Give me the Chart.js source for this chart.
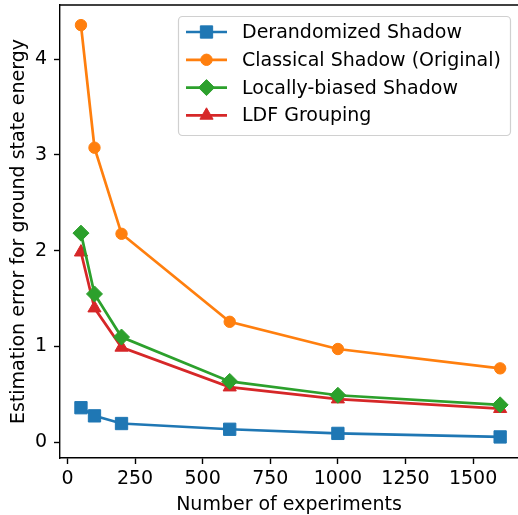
<!DOCTYPE html>
<html>
<head>
<meta charset="utf-8">
<script src="https://cdn.jsdelivr.net/npm/chart.js@4.4.1/dist/chart.umd.min.js"></script>
<style>
  html, body { margin: 0; padding: 0; background: #fff; overflow: hidden; }
  canvas { display: block; }
</style>
</head>
<body>
<canvas id="myChart" width="518" height="515"></canvas>
<script>
var experiments = [50, 100, 200, 600, 1000, 1600];
var derandomized = [0.36, 0.275, 0.195, 0.135, 0.092, 0.055];
var classical = [4.355, 3.075, 2.176, 1.257, 0.973, 0.771];
var locallyBiased = [2.183, 1.548, 1.098, 0.635, 0.49, 0.39];
var ldfGrouping = [1.984, 1.40, 0.99, 0.575, 0.45, 0.35];
var seriesNames = ["Derandomized Shadow", "Classical Shadow (Original)", "Locally-biased Shadow", "LDF Grouping"];
var xTicks = [0, 250, 500, 750, 1000, 1250, 1500];
var yTicks = [0, 1, 2, 3, 4];

var FONT = "DejaVu Sans";
var FS = 19;

function pts(ys) {
    return experiments.map(function (x, i) { return { x: x, y: ys[i] }; });
}

function series(label, ys, color, style, radius) {
    return {
        label: label,
        data: pts(ys),
        borderColor: color,
        backgroundColor: color,
        pointBackgroundColor: color,
        pointBorderColor: color,
        borderWidth: 2.7,
        pointBorderWidth: 1,
        pointStyle: style,
        pointRadius: radius,
        pointHoverRadius: radius,
        tension: 0
    };
}

// no extra room for tick labels: the plot box is fixed like matplotlib's
function noPad(s) {
    s.paddingTop = 0; s.paddingBottom = 0; s.paddingLeft = 0; s.paddingRight = 0;
}

// legend drawn like matplotlib's (line + marker)
var legendBox = {
    id: 'legendBox',
    afterDraw: function (chart) {
        var ctx = chart.ctx;
        ctx.save();
        ctx.beginPath();
        ctx.roundRect(178.5, 16.5, 332, 119, 4);
        ctx.fillStyle = 'rgba(255,255,255,0.8)';
        ctx.fill();
        ctx.lineWidth = 1.2;
        ctx.strokeStyle = '#d0d0d0';
        ctx.stroke();
        chart.data.datasets.forEach(function (ds, i) {
            var y = 32 + i * 27.8;
            ctx.strokeStyle = ds.borderColor;
            ctx.fillStyle = ds.borderColor;
            ctx.lineWidth = 2.7;
            ctx.beginPath();
            ctx.moveTo(186, y);
            ctx.lineTo(227, y);
            ctx.stroke();
            ctx.lineWidth = 1;
            Chart.helpers.drawPoint(ctx, { pointStyle: ds.pointStyle, radius: ds.pointRadius, rotation: 0, borderWidth: 1 }, 206.5, y);
            ctx.fillStyle = '#000';
            ctx.font = FS + 'px "' + FONT + '"';
            ctx.textBaseline = 'middle';
            ctx.textAlign = 'left';
            ctx.fillText(ds.label, 242, y + 1);
        });
        ctx.restore();
    }
};

// top spine (the right one falls just outside the picture)
var topSpine = {
    id: 'topSpine',
    afterDraw: function (chart) {
        var a = chart.chartArea, ctx = chart.ctx;
        ctx.save();
        ctx.strokeStyle = '#000';
        ctx.lineWidth = 1.4;
        ctx.beginPath();
        ctx.moveTo(a.left, a.top);
        ctx.lineTo(a.right, a.top);
        ctx.stroke();
        ctx.restore();
    }
};

var ctx = document.getElementById('myChart').getContext('2d');
var myChart = new Chart(ctx, {
    type: 'line',
    data: {
        datasets: [
            series(seriesNames[0], derandomized, '#1f77b4', 'rect', 8.7),
            series(seriesNames[1], classical, '#ff7f0e', 'circle', 5.7),
            series(seriesNames[2], locallyBiased, '#2ca02c', 'rectRot', 8),
            series(seriesNames[3], ldfGrouping, '#d62728', 'triangle', 7.6)
        ]
    },
    options: {
        responsive: false,
        animation: false,
        devicePixelRatio: 1,
        layout: { autoPadding: false, padding: { top: 5, right: 0, left: 0, bottom: 0 } },
        plugins: {
            legend: { display: false },
            tooltip: { enabled: false }
        },
        scales: {
            x: {
                type: 'linear',
                min: -27.5,
                max: 1666,
                afterFit: function (s) { s.height = 57; noPad(s); },
                afterBuildTicks: function (s) { s.ticks = xTicks.map(function (v) { return { value: v }; }); },
                ticks: {
                    color: '#000',
                    font: { family: FONT, size: FS },
                    padding: 4,
                    maxRotation: 0,
                    callback: function (v) { return String(v); }
                },
                grid: { drawOnChartArea: false, tickLength: 6, tickColor: '#000', tickWidth: 1.4 },
                border: { color: '#000', width: 1.4 },
                title: {
                    display: true,
                    text: 'Number of experiments',
                    color: '#000',
                    font: { family: FONT, size: FS, lineHeight: 1 },
                    padding: { top: 0, bottom: 0 }
                }
            },
            y: {
                min: -0.165,
                max: 4.565,
                afterFit: function (s) { s.width = 60; noPad(s); },
                afterBuildTicks: function (s) { s.ticks = yTicks.map(function (v) { return { value: v }; }); },
                ticks: {
                    color: '#000',
                    font: { family: FONT, size: FS },
                    padding: 7,
                    callback: function (v) { return String(v); }
                },
                grid: { drawOnChartArea: false, tickLength: 6, tickColor: '#000', tickWidth: 1.4 },
                border: { color: '#000', width: 1.4 },
                title: {
                    display: true,
                    text: 'Estimation error for ground state energy',
                    color: '#000',
                    font: { family: FONT, size: FS, lineHeight: 1 },
                    padding: { top: 10, bottom: 0 }
                }
            }
        }
    },
    plugins: [legendBox, topSpine]
});
</script>
</body>
</html>
